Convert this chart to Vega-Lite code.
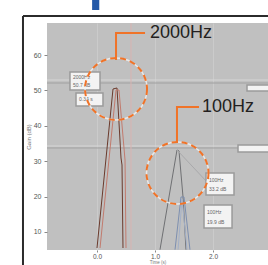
{
  "$schema": "https://vega.github.io/schema/vega-lite/v6.json",
  "width": 221,
  "height": 227,
  "autosize": {"type": "none"},
  "padding": {"left": 47, "top": 23, "right": 0, "bottom": 15},
  "background": "#ffffff",
  "config": {
    "font": "Liberation Sans",
    "view": {"fill": "#c0c0c0", "stroke": null}
  },
  "resolve": {"scale": {"color": "independent", "strokeWidth": "independent"}},
  "datasets": {
    "curves": [
      {"s": "dark", "o": 1, "x": 0.0, "y": 5.48},
      {"s": "dark", "o": 2, "x": 0.276, "y": 50.4},
      {"s": "dark", "o": 3, "x": 0.345, "y": 50.68},
      {"s": "dark", "o": 4, "x": 0.414, "y": 30.9},
      {"s": "dark", "o": 5, "x": 0.431, "y": 28.93},
      {"s": "dark", "o": 6, "x": 0.448, "y": 5.48},
      {"s": "red", "o": 1, "x": 0.052, "y": 5.48},
      {"s": "red", "o": 2, "x": 0.328, "y": 50.11},
      {"s": "red", "o": 3, "x": 0.379, "y": 50.11},
      {"s": "red", "o": 4, "x": 0.483, "y": 30.34},
      {"s": "red", "o": 5, "x": 0.5, "y": 5.48},
      {"s": "gray", "o": 1, "x": 1.086, "y": 5.0},
      {"s": "gray", "o": 2, "x": 1.379, "y": 33.16},
      {"s": "gray", "o": 3, "x": 1.414, "y": 32.88},
      {"s": "gray", "o": 4, "x": 1.483, "y": 19.89},
      {"s": "gray", "o": 5, "x": 1.534, "y": 5.0},
      {"s": "blue", "o": 1, "x": 1.345, "y": 5.0},
      {"s": "blue", "o": 2, "x": 1.448, "y": 19.89},
      {"s": "blue", "o": 3, "x": 1.5, "y": 19.89},
      {"s": "blue", "o": 4, "x": 1.603, "y": 5.0},
      {"s": "blue2", "o": 1, "x": 1.397, "y": 5.0},
      {"s": "blue2", "o": 2, "x": 1.466, "y": 19.32},
      {"s": "blue2", "o": 3, "x": 1.552, "y": 5.0},
      {"s": "faint", "o": 1, "x": 1.379, "y": 33.16},
      {"s": "faint", "o": 2, "x": 1.897, "y": 24.12},
      {"s": "pink", "o": 1, "x": 0.586, "y": 5.0},
      {"s": "pink", "o": 2, "x": 0.586, "y": 69.0}
    ],
    "hlines": [
      {"y": 34.29, "tone": "light"},
      {"y": 33.73, "tone": "dark"},
      {"y": 52.94, "tone": "light"},
      {"y": 52.09, "tone": "dark"}
    ],
    "frame": [
      {"x": -1.276, "x2": 3.0, "y": 71.02, "y2": 71.02},
      {"x": -1.276, "x2": -1.276, "y": 71.02, "y2": -2}
    ],
    "boxes": [
      {"x": -0.466, "x2": 0.052, "y": 55.2, "y2": 50.11},
      {"x": -0.362, "x2": 0.103, "y": 49.27, "y2": 45.59},
      {"x": 1.879, "x2": 2.362, "y": 26.67, "y2": 20.45},
      {"x": 1.845, "x2": 2.328, "y": 17.63, "y2": 11.13},
      {"x": 2.586, "x2": 3.0, "y": 51.53, "y2": 49.83},
      {"x": 2.431, "x2": 3.0, "y": 34.58, "y2": 32.6}
    ],
    "boxtext": [
      {"x": -0.414, "y": 53.79, "t": "2000Hz"},
      {"x": -0.414, "y": 51.53, "t": "50.7 dB"},
      {"x": -0.31, "y": 47.43, "t": "0.34 s"},
      {"x": 1.931, "y": 24.69, "t": "100Hz"},
      {"x": 1.931, "y": 22.15, "t": "33.2 dB"},
      {"x": 1.897, "y": 15.65, "t": "100Hz"},
      {"x": 1.897, "y": 12.82, "t": "19.9 dB"}
    ],
    "leaders": [
      {"g": 1, "o": 1, "x": 0.328, "y": 58.59},
      {"g": 1, "o": 2, "x": 0.328, "y": 66.21},
      {"g": 1, "o": 3, "x": 0.828, "y": 66.21},
      {"g": 2, "o": 1, "x": 1.379, "y": 35.14},
      {"g": 2, "o": 2, "x": 1.379, "y": 45.31},
      {"g": 2, "o": 3, "x": 1.759, "y": 45.31}
    ],
    "circles": [
      {"x": 0.328, "y": 50.4},
      {"x": 1.388, "y": 26.67}
    ],
    "labels": [
      {"x": 0.914, "y": 66.21, "t": "2000Hz"},
      {"x": 1.81, "y": 45.31, "t": "100Hz"}
    ],
    "heading": [
      {"x": -0.148, "y": 75.82, "t": "p"}
    ]
  },
  "encoding": {
    "x": {
      "field": "x", "type": "quantitative",
      "scale": {"domain": [-0.862, 2.948], "zero": false, "nice": false},
      "axis": {
        "values": [0, 1, 2], "format": ".1f",
        "labelFontSize": 6.5, "labelColor": "#555555", "labelPadding": 1,
        "tickSize": 2, "tickColor": "#888888", "domain": false,
        "grid": true, "gridColor": "#d0d0d0", "gridOpacity": 0.7,
        "title": "Time (s)", "titleFontSize": 4.5, "titleFontWeight": "normal",
        "titleColor": "#777777", "titlePadding": 0
      }
    },
    "y": {
      "field": "y", "type": "quantitative",
      "scale": {"domain": [4.915, 69.04], "zero": false, "nice": false},
      "axis": {
        "values": [10, 20, 30, 40, 50, 60],
        "labelFontSize": 7, "labelColor": "#555555", "labelPadding": 3,
        "tickSize": 3, "tickColor": "#888888", "domain": false, "grid": false,
        "title": "Gain (dB)", "titleFontSize": 6, "titleFontWeight": "normal",
        "titleColor": "#777777", "titlePadding": 2
      }
    }
  },
  "layer": [
    {
      "data": {"name": "hlines"},
      "mark": {"type": "rule", "strokeWidth": 1},
      "encoding": {
        "x": null,
        "color": {"field": "tone", "type": "nominal", "scale": {"domain": ["light", "dark"], "range": ["#d6d6d6", "#a0a0a0"]}, "legend": null}
      }
    },
    {
      "data": {"name": "frame"},
      "mark": {"type": "rule", "strokeWidth": 2, "color": "#2b2b2b"},
      "encoding": {
        "x2": {"field": "x2"},
        "y2": {"field": "y2"}
      }
    },
    {
      "data": {"name": "curves"},
      "mark": {"type": "line"},
      "encoding": {
        "order": {"field": "o", "type": "quantitative"},
        "color": {"field": "s", "type": "nominal", "scale": {"domain": ["pink", "faint", "red", "dark", "gray", "blue2", "blue"], "range": ["#d8b4b2", "#a9a9ab", "#c27b6e", "#6a3a2c", "#6f7073", "#a3b0c8", "#7d8fb0"]}, "legend": null},
        "strokeWidth": {"field": "s", "type": "nominal", "scale": {"domain": ["pink", "faint", "red", "dark", "gray", "blue2", "blue"], "range": [1, 1, 1.8, 2.2, 1.5, 1.2, 1.5]}, "legend": null}
      }
    },
    {
      "data": {"name": "boxes"},
      "mark": {"type": "rect", "fill": "#f3f3f3", "stroke": "#9a9a9a", "strokeWidth": 1.5},
      "encoding": {
        "x2": {"field": "x2"},
        "y2": {"field": "y2"}
      }
    },
    {
      "data": {"name": "boxtext"},
      "mark": {"type": "text", "align": "left", "baseline": "middle", "fontSize": 5, "color": "#666666"},
      "encoding": {"text": {"field": "t"}}
    },
    {
      "data": {"name": "circles"},
      "mark": {"type": "point", "shape": "circle", "size": 3844, "filled": false, "strokeWidth": 1.5, "color": "#f4f4f4", "opacity": 0.8}
    },
    {
      "data": {"name": "circles"},
      "mark": {"type": "point", "shape": "circle", "size": 3844, "filled": false, "strokeWidth": 2, "strokeDash": [6, 4], "color": "#f07328", "opacity": 1}
    },
    {
      "data": {"name": "leaders"},
      "mark": {"type": "line", "strokeWidth": 2, "color": "#f07328"},
      "encoding": {
        "detail": {"field": "g", "type": "nominal"},
        "order": {"field": "o", "type": "quantitative"}
      }
    },
    {
      "data": {"name": "labels"},
      "mark": {"type": "text", "align": "left", "baseline": "middle", "fontSize": 18, "color": "#231f20"},
      "encoding": {"text": {"field": "t"}}
    },
    {
      "data": {"name": "heading"},
      "mark": {"type": "text", "align": "left", "baseline": "alphabetic", "fontSize": 52, "fontWeight": "bold", "color": "#2359a8"},
      "encoding": {"text": {"field": "t"}}
    }
  ]
}
